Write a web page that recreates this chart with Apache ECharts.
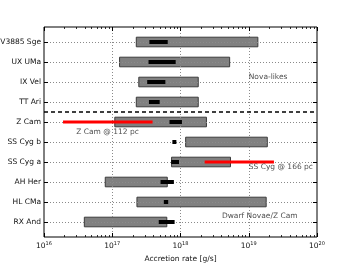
<!DOCTYPE html>
<html><head><meta charset="utf-8">
<script src="https://cdn.jsdelivr.net/npm/echarts@6/dist/echarts.min.js"></script>
<style>html,body{margin:0;padding:0;background:#fff}#c{width:353px;height:265px}</style>
</head><body><div id="c"></div>
<script>
const categories = ['V3885 Sge','UX UMa','IX Vel','TT Ari','Z Cam','SS Cyg b','SS Cyg a','AH Her','HL CMa','RX And'];
const grayLow  = [2.25e17, 1.28e17, 2.45e17, 2.25e17, 1.09e17, 1.19e18, 7.4e17, 7.9e16, 2.3e17, 3.9e16];
const grayHigh = [1.36e19, 5.25e18, 1.82e18, 1.82e18, 2.4e18, 1.87e19, 5.4e18, 6.4e17, 1.8e19, 6.3e17];
const blackLow  = [3.5e17, 3.4e17, 3.25e17, 3.45e17, 6.9e17, 7.6e17, 7.3e17, 5.1e17, 5.7e17, 4.8e17];
const blackHigh = [6.5e17, 8.5e17, 6.0e17, 4.95e17, 1.05e18, 8.7e17, 9.5e17, 8.0e17, 6.6e17, 8.2e17];
const redRows = [4, 6];
const redLow  = [1.9e16, 2.26e18];
const redHigh = [3.9e17, 2.34e19];
const notes = ['Nova-likes', 'Z Cam @ 112 pc', 'SS Cyg @ 166 pc', 'Dwarf Novae/Z Cam'];
const noteX = [1.0e19, 2.97e16, 1.0e19, 4.05e18];
const noteY = [1.77, 4.48, 6.27, 8.72];
const dividerY = 3.5;
const xExponents = [16, 17, 18, 19, 20];
const xGridValues = [1e17, 1e18, 1e19];
const xMin = 1e16, xMax = 1e20;

const FONT = 'DejaVu Sans';
const rowIdx = categories.map((c, i) => i);
const minorPos = [];
for (let d = xExponents[0]; d < xExponents[xExponents.length - 1]; d++) {
  for (let k = 2; k <= 9; k++) minorPos.push(d + Math.log10(k));
}

const barData = (lo, hi, rows) => lo.map((v, i) => [v, hi[i], rows ? rows[i] : i]);

function rectItem(halfH, style) {
  return function (params, api) {
    const r = api.value(2);
    const a = api.coord([api.value(0), r - halfH]);
    const b = api.coord([api.value(1), r + halfH]);
    return {
      type: 'rect',
      shape: { x: a[0], y: Math.min(a[1], b[1]), width: b[0] - a[0], height: Math.abs(b[1] - a[1]) },
      style: style
    };
  };
}

const chart = echarts.init(document.getElementById('c'), null, { renderer: 'canvas' });
const gridStyle = { color: '#8a8a8a', width: 1, type: [1, 2] };
const noLine = { show: false, onZero: false };
const option = {
  animation: false,
  backgroundColor: '#fff',
  grid: { left: 44, right: 36, top: 27, bottom: 28, show: true, borderColor: '#000', borderWidth: 1, backgroundColor: 'transparent', outerBoundsMode: 'none' },
  xAxis: [
    {
      type: 'log', logBase: 10, min: xMin, max: xMax, position: 'bottom', z: 7,
      axisLine: noLine,
      axisTick: { show: true, inside: true, length: 4, lineStyle: { color: '#000', width: 1 } },
      minorTick: { show: false },
      splitLine: { show: false },
      axisLabel: {
        margin: 4, color: '#111', fontFamily: FONT,
        formatter: v => '{b|10}{s|' + Math.round(Math.log10(v)) + '}',
        rich: { b: { fontSize: 7.5, fontFamily: FONT, color: '#111' }, s: { fontSize: 5, fontFamily: FONT, color: '#111', padding: [0, 0, 5, 0] } }
      },
      name: 'Accretion rate [g/s]', nameLocation: 'middle', nameGap: 15,
      nameTextStyle: { fontSize: 7.5, fontFamily: FONT, color: '#111' }
    },
    {
      type: 'value', min: xExponents[0], max: xExponents[xExponents.length - 1], position: 'bottom', z: 7,
      axisLine: noLine, axisLabel: { show: false }, splitLine: { show: false },
      axisTick: { show: true, inside: true, length: 2, customValues: minorPos, lineStyle: { color: '#000', width: 0.8 } }
    },
    {
      type: 'value', min: xExponents[0], max: xExponents[xExponents.length - 1], position: 'top', z: 7,
      axisLine: noLine, axisLabel: { show: false }, splitLine: { show: false },
      axisTick: { show: true, inside: true, length: 4, customValues: xExponents, lineStyle: { color: '#000', width: 1 } }
    },
    {
      type: 'value', min: xExponents[0], max: xExponents[xExponents.length - 1], position: 'top', z: 7,
      axisLine: noLine, axisLabel: { show: false }, splitLine: { show: false },
      axisTick: { show: true, inside: true, length: 2, customValues: minorPos, lineStyle: { color: '#000', width: 0.8 } }
    }
  ],
  yAxis: [
    {
      type: 'value', inverse: true, min: -0.75, max: 9.75, position: 'left', z: 7,
      axisLine: noLine,
      axisTick: { show: true, inside: true, length: 4, customValues: rowIdx, lineStyle: { color: '#000', width: 1 } },
      axisLabel: { customValues: rowIdx, formatter: v => categories[Math.round(v)], fontSize: 7.5, fontFamily: FONT, color: '#111', margin: 3 },
      splitLine: { show: false }
    },
    {
      type: 'value', inverse: true, min: -0.75, max: 9.75, position: 'right', z: 7,
      axisLine: noLine, axisLabel: { show: false }, splitLine: { show: false },
      axisTick: { show: true, inside: true, length: 4, customValues: rowIdx, lineStyle: { color: '#000', width: 1 } }
    }
  ],
  series: [
    {
      type: 'custom', xAxisIndex: 0, yAxisIndex: 0, z: 2,
      data: barData(grayLow, grayHigh),
      renderItem: rectItem(0.24, { fill: '#808080', stroke: '#3a3a3a', lineWidth: 1 })
    },
    {
      type: 'scatter', xAxisIndex: 0, yAxisIndex: 0, symbolSize: 0, z: 3, data: [],
      markLine: {
        z: 3, silent: true, symbol: ['none', 'none'], label: { show: false }, animation: false,
        lineStyle: gridStyle,
        data: rowIdx.map(r => ({ yAxis: r })).concat(xGridValues.map(v => ({ xAxis: v })))
      }
    },
    {
      type: 'custom', xAxisIndex: 0, yAxisIndex: 0, z: 4,
      data: barData(blackLow, blackHigh),
      renderItem: rectItem(0.1, { fill: '#000' })
    },
    {
      type: 'custom', xAxisIndex: 0, yAxisIndex: 0, z: 5,
      data: barData(redLow, redHigh, redRows),
      renderItem: rectItem(0.07, { fill: '#ff0000' })
    },
    {
      type: 'scatter', xAxisIndex: 0, yAxisIndex: 0, symbolSize: 0, z: 6,
      data: notes.map((t, i) => ({ name: t, value: [noteX[i], noteY[i]] })),
      label: { show: true, position: 'right', distance: 0, formatter: '{b}', fontSize: 7.5, fontFamily: FONT, color: '#222' },
      markLine: {
        z: 6, silent: true, symbol: ['none', 'none'], label: { show: false }, animation: false,
        lineStyle: { color: '#000', width: 1.5, type: [4, 3] },
        data: [{ yAxis: dividerY }]
      }
    }
  ]
};
chart.setOption(option);
</script></body></html>
